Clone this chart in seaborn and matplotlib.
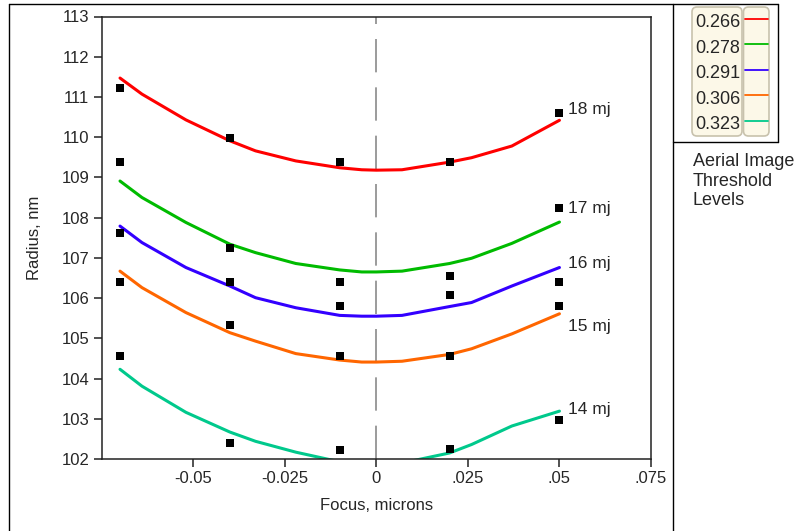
import matplotlib
matplotlib.use("Agg")
import numpy as np
import pandas as pd
import matplotlib.pyplot as plt
import matplotlib.patches as mpatches
from matplotlib.lines import Line2D
from matplotlib.transforms import IdentityTransform
import seaborn as sns

# aerial image threshold levels (one fitted curve each) and exposure doses
levels = ["0.266", "0.278", "0.291", "0.306", "0.323"]
doses = ["18 mj", "17 mj", "16 mj", "15 mj", "14 mj"]
colors = ["#ff0000", "#00bb00", "#3300ff", "#ff6600", "#00c98c"]

# fitted curves
curve_focus = [-0.07, -0.064, -0.052, -0.04, -0.033, -0.022, -0.01, -0.004,
               0.0, 0.007, 0.02, 0.026, 0.037, 0.05]
curve_0266 = [111.47, 111.07, 110.43, 109.91, 109.66, 109.41, 109.24, 109.19,
              109.18, 109.19, 109.38, 109.49, 109.78, 110.42]
curve_0278 = [108.91, 108.50, 107.88, 107.34, 107.13, 106.86, 106.70, 106.65,
              106.65, 106.67, 106.86, 106.99, 107.36, 107.89]
curve_0291 = [107.79, 107.38, 106.76, 106.30, 106.01, 105.76, 105.57, 105.55,
              105.55, 105.57, 105.79, 105.89, 106.30, 106.76]
curve_0306 = [106.67, 106.26, 105.64, 105.14, 104.93, 104.62, 104.46, 104.41,
              104.41, 104.43, 104.60, 104.74, 105.11, 105.61]
curve_0323 = [104.23, 103.81, 103.16, 102.67, 102.44, 102.17, 101.93, 101.86,
              101.85, 101.90, 102.15, 102.36, 102.82, 103.19]

# measured radii per dose
meas_focus = [-0.07, -0.04, -0.01, 0.02, 0.05]
meas_18 = [111.22, 109.99, 109.38, 109.38, 110.59]
meas_17 = [109.38, 107.24, 106.40, 106.56, 108.23]
meas_16 = [107.63, 106.40, 105.80, 106.08, 106.40]
meas_15 = [106.40, 105.32, 104.57, 104.57, 105.80]
meas_14 = [104.57, 102.39, 102.22, 102.24, 102.97]

dose_label_x = 0.0523
dose_label_y = [110.57, 108.12, 106.76, 105.18, 103.13]

xtick_vals = [-0.05, -0.025, 0, 0.025, 0.05, 0.075]
xtick_labels = ["-0.05", "-0.025", "0", ".025", ".05", ".075"]
ytick_vals = list(range(102, 114))

curves = [curve_0266, curve_0278, curve_0291, curve_0306, curve_0323]
df_lines = pd.concat([pd.DataFrame({"focus": curve_focus, "radius": c, "level": lv})
                      for lv, c in zip(levels, curves)], ignore_index=True)
meas = [meas_18, meas_17, meas_16, meas_15, meas_14]
df_pts = pd.concat([pd.DataFrame({"focus": meas_focus, "radius": m, "dose": d})
                    for d, m in zip(doses, meas)], ignore_index=True)

sns.set_theme(style="ticks")
plt.rcParams["font.family"] = ["Liberation Sans", "DejaVu Sans"]

W, H = 807, 531
fig = plt.figure(figsize=(W / 100, H / 100), dpi=100)
ax = fig.add_axes([101.7 / W, 1 - 459 / H, (651 - 101.7) / W, (459 - 16.5) / H])

ax.axvline(0, color="#8a8a8a", lw=1.2, dashes=(20, 9), zorder=1)
sns.lineplot(data=df_lines, x="focus", y="radius", hue="level",
             palette=dict(zip(levels, colors)), sort=False, estimator=None,
             legend=False, linewidth=2.2, ax=ax, zorder=2)
sns.scatterplot(data=df_pts, x="focus", y="radius", marker="s", color="black",
                s=40, linewidth=0, legend=False, ax=ax, zorder=3)

for d, yv in zip(doses, dose_label_y):
    ax.text(dose_label_x, yv, d, fontsize=12.5, ha="left", va="baseline")

ax.set_xlim(-0.075, 0.075)
ax.set_ylim(102, 113)
ax.set_xticks(xtick_vals)
ax.set_xticklabels(xtick_labels)
ax.set_yticks(ytick_vals)
ax.set_xlabel("Focus, microns", fontsize=12, labelpad=9)
ax.set_ylabel("Radius, nm", fontsize=12, labelpad=14)
ax.tick_params(axis="both", labelsize=12, length=5.5, width=1.1, color="#222222")
ax.tick_params(axis="x", pad=3)
ax.tick_params(axis="y", pad=3.5)
for sp in ax.spines.values():
    sp.set_visible(True)
    sp.set_linewidth(1.1)
    sp.set_color("#222222")

# frame around the plot and the legend panel (pixel coords, y from top)
def px(x, y):
    return x / W, 1 - y / H

frame = [((9, 4), (778, 4)), ((9, 4), (9, 531)), ((673, 4), (673, 531)),
         ((778, 4), (778, 142)), ((673, 142), (778, 142))]
for (x0, y0), (x1, y1) in frame:
    a, b = px(x0, y0), px(x1, y1)
    fig.add_artist(Line2D([a[0], b[0]], [a[1], b[1]], color="black", lw=1.0,
                          transform=fig.transFigure))

# legend boxes
for x0, x1 in [(692, 742), (743.5, 769)]:
    box = mpatches.FancyBboxPatch((x0, H - 136), x1 - x0, 129,
                                  boxstyle="round,pad=0,rounding_size=5",
                                  fc="#fcf8e8", ec="#c8c2ad", lw=1.2,
                                  transform=IdentityTransform())
    fig.add_artist(box)

for i, (lv, c) in enumerate(zip(levels, colors)):
    yc = 22.7 + i * 25.5
    fig.text(*px(695, yc), lv, fontsize=13, ha="left", va="center")
    a, b = px(744.5, yc - 4.2), px(767.5, yc - 4.2)
    fig.add_artist(Line2D([a[0], b[0]], [a[1], b[1]], color=c, lw=1.3,
                          transform=fig.transFigure))

fig.text(*px(693, 153), "Aerial Image\nThreshold\nLevels", fontsize=13,
         ha="left", va="top", linespacing=1.2)

fig.savefig("out.png", dpi=100)
